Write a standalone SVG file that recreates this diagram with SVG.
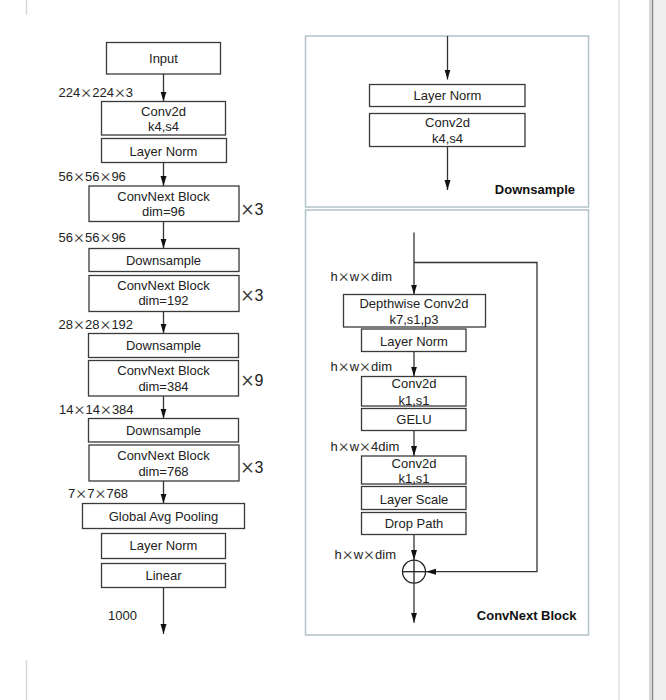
<svg xmlns="http://www.w3.org/2000/svg" width="666" height="700" viewBox="0 0 666 700">
  <defs>
    <marker id="arrow" markerUnits="userSpaceOnUse" markerWidth="11" markerHeight="7" refX="10" refY="3" orient="auto">
      <path d="M0,0 L10,3 L0,6 z" fill="#111"/>
    </marker>
    <style>
      .box { fill: #fff; stroke: #3a3a3a; stroke-width: 1.3; }
      .panel { fill: #fff; stroke: #b3c4c8; stroke-width: 1.5; }
      .t { font-family: "Liberation Sans", Arial, sans-serif; font-size: 13px; fill: #222; text-anchor: middle; }
      .lbl { font-family: "Liberation Sans", Arial, sans-serif; font-size: 13px; fill: #222; }
      .x { font-family: Roboto, "Liberation Sans", sans-serif; font-weight: 300; font-size: 19px; fill: #333; }
      .xr { font-family: Roboto, "Liberation Sans", sans-serif; font-weight: 300; font-size: 23px; fill: #333; }
      .rep { font-family: "Liberation Sans", Arial, sans-serif; font-size: 16px; fill: #222; }
      .title { font-family: "Liberation Sans", Arial, sans-serif; font-size: 13px; font-weight: bold; fill: #111; text-anchor: end; }
      .wire { fill: none; stroke: #333; stroke-width: 1.3; }
    </style>
  </defs>

  <!-- page edges -->
  <g id="page-edges">
    <line x1="26.5" y1="0" x2="26.5" y2="15" stroke="#d8d8d8" stroke-width="1.5"/>
    <line x1="26.5" y1="660" x2="26.5" y2="700" stroke="#d8d8d8" stroke-width="1.5"/>
    <line x1="619" y1="0" x2="619" y2="700" stroke="#e2e2e2" stroke-width="1.5"/>
    <rect x="649" y="0" width="17" height="700" fill="#efefef"/>
    <line x1="650" y1="0" x2="650" y2="700" stroke="#bdbdbd" stroke-width="1"/>
    <line x1="652.5" y1="0" x2="652.5" y2="700" stroke="#8a8a8a" stroke-width="1.5"/>
  </g>

  <!-- panels -->
  <g id="panel-downsample">
    <rect class="panel" x="305.5" y="36" width="283" height="171"/>
    <text class="title" x="575" y="193.5">Downsample</text>
  </g>
  <g id="panel-convnext">
    <rect class="panel" x="305.5" y="210" width="283" height="425"/>
    <text class="title" x="576.5" y="620">ConvNext Block</text>
  </g>

  <!-- connectors -->
  <g id="connectors" class="wire">
    <line x1="163.5" y1="74" x2="163.5" y2="101.5" marker-end="url(#arrow)"/>
    <line x1="163.5" y1="162.5" x2="163.5" y2="186" marker-end="url(#arrow)"/>
    <line x1="163.5" y1="221.5" x2="163.5" y2="248.5" marker-end="url(#arrow)"/>
    <line x1="163.5" y1="311.5" x2="163.5" y2="333.5" marker-end="url(#arrow)"/>
    <line x1="163.5" y1="396" x2="163.5" y2="418.5" marker-end="url(#arrow)"/>
    <line x1="163.5" y1="481" x2="163.5" y2="503.5" marker-end="url(#arrow)"/>
    <line x1="163.5" y1="587.5" x2="163.5" y2="634" marker-end="url(#arrow)"/>

    <line x1="447.5" y1="36" x2="447.5" y2="79.5" marker-end="url(#arrow)"/>
    <line x1="447.5" y1="146.5" x2="447.5" y2="190" marker-end="url(#arrow)"/>

    <line x1="414" y1="232.5" x2="414" y2="294.5" marker-end="url(#arrow)"/>
    <polyline points="414,262.5 537,262.5 537,571.7 426,571.7" marker-end="url(#arrow)"/>
    <line x1="414" y1="351.5" x2="414" y2="376.5" marker-end="url(#arrow)"/>
    <line x1="414" y1="430.5" x2="414" y2="456" marker-end="url(#arrow)"/>
    <line x1="414" y1="534.5" x2="414" y2="560" marker-end="url(#arrow)"/>
    <line x1="414" y1="583.2" x2="414" y2="622.7" marker-end="url(#arrow)"/>
  </g>

  <!-- backbone column -->
  <g id="input"><rect class="box" x="106.5" y="42.5" width="114" height="31.5"/><text class="t" x="163.5" y="63">Input</text></g>
  <g id="stem-conv"><rect class="box" x="101.5" y="101.5" width="124" height="33.5"/><text class="t" x="163.5" y="116">Conv2d</text><text class="t" x="163.5" y="131">k4,s4</text></g>
  <g id="stem-norm"><rect class="box" x="101.5" y="138.5" width="125" height="24"/><text class="t" x="163.5" y="155.5">Layer Norm</text></g>
  <g id="stage1"><rect class="box" x="89" y="186" width="150" height="35.5"/><text class="t" x="163.5" y="200.8">ConvNext Block</text><text class="t" x="163.5" y="215.8">dim=96</text><text class="rep" x="241.5" y="215"><tspan class="xr" dy="1">×</tspan><tspan dx="1" dy="-1">3</tspan></text></g>
  <g id="down1"><rect class="box" x="89" y="248.5" width="150" height="23"/><text class="t" x="163.5" y="264.8">Downsample</text></g>
  <g id="stage2"><rect class="box" x="89" y="275.5" width="150" height="36"/><text class="t" x="163.5" y="290.2">ConvNext Block</text><text class="t" x="163.5" y="305.2">dim=192</text><text class="rep" x="241.5" y="301"><tspan class="xr" dy="1">×</tspan><tspan dx="1" dy="-1">3</tspan></text></g>
  <g id="down2"><rect class="box" x="88.5" y="333.5" width="150" height="24"/><text class="t" x="163.5" y="350.2">Downsample</text></g>
  <g id="stage3"><rect class="box" x="88.5" y="360.5" width="150" height="35.5"/><text class="t" x="163.5" y="374.8">ConvNext Block</text><text class="t" x="163.5" y="390.5">dim=384</text><text class="rep" x="241.5" y="386"><tspan class="xr" dy="1">×</tspan><tspan dx="1" dy="-1">9</tspan></text></g>
  <g id="down3"><rect class="box" x="88.5" y="418.5" width="150" height="23.5"/><text class="t" x="163.5" y="434.8">Downsample</text></g>
  <g id="stage4"><rect class="box" x="89" y="445" width="150" height="36"/><text class="t" x="163.5" y="459.8">ConvNext Block</text><text class="t" x="163.5" y="475.5">dim=768</text><text class="rep" x="241.5" y="472.5"><tspan class="xr" dy="1">×</tspan><tspan dx="1" dy="-1">3</tspan></text></g>
  <g id="pool"><rect class="box" x="82.5" y="503.5" width="162" height="25"/><text class="t" x="163.5" y="520.5">Global Avg Pooling</text></g>
  <g id="head-norm"><rect class="box" x="101.5" y="533.5" width="124" height="25"/><text class="t" x="163.5" y="550.2">Layer Norm</text></g>
  <g id="head-linear"><rect class="box" x="101.5" y="563.5" width="124" height="24"/><text class="t" x="163.5" y="580.2">Linear</text></g>

  <!-- tensor shapes -->
  <g id="shapes">
    <text class="lbl" x="58.5" y="97">224<tspan class="x" dx="1" dy="1">×</tspan><tspan dx="1" dy="-1">224</tspan><tspan class="x" dx="1" dy="1">×</tspan><tspan dx="1" dy="-1">3</tspan></text>
    <text class="lbl" x="58.5" y="181">56<tspan class="x" dx="1" dy="1">×</tspan><tspan dx="1" dy="-1">56</tspan><tspan class="x" dx="1" dy="1">×</tspan><tspan dx="1" dy="-1">96</tspan></text>
    <text class="lbl" x="58.5" y="242">56<tspan class="x" dx="1" dy="1">×</tspan><tspan dx="1" dy="-1">56</tspan><tspan class="x" dx="1" dy="1">×</tspan><tspan dx="1" dy="-1">96</tspan></text>
    <text class="lbl" x="58.5" y="329">28<tspan class="x" dx="1" dy="1">×</tspan><tspan dx="1" dy="-1">28</tspan><tspan class="x" dx="1" dy="1">×</tspan><tspan dx="1" dy="-1">192</tspan></text>
    <text class="lbl" x="59" y="414">14<tspan class="x" dx="1" dy="1">×</tspan><tspan dx="1" dy="-1">14</tspan><tspan class="x" dx="1" dy="1">×</tspan><tspan dx="1" dy="-1">384</tspan></text>
    <text class="lbl" x="68" y="497.5">7<tspan class="x" dx="1" dy="1">×</tspan><tspan dx="1" dy="-1">7</tspan><tspan class="x" dx="1" dy="1">×</tspan><tspan dx="1" dy="-1">768</tspan></text>
    <text class="lbl" x="108" y="619.5">1000</text>

    <text class="lbl" x="330.5" y="281">h<tspan class="x" dx="1" dy="1">×</tspan><tspan dx="1" dy="-1">w</tspan><tspan class="x" dx="1" dy="1">×</tspan><tspan dx="1" dy="-1">dim</tspan></text>
    <text class="lbl" x="330.5" y="370.5">h<tspan class="x" dx="1" dy="1">×</tspan><tspan dx="1" dy="-1">w</tspan><tspan class="x" dx="1" dy="1">×</tspan><tspan dx="1" dy="-1">dim</tspan></text>
    <text class="lbl" x="330.5" y="451">h<tspan class="x" dx="1" dy="1">×</tspan><tspan dx="1" dy="-1">w</tspan><tspan class="x" dx="1" dy="1">×</tspan><tspan dx="1" dy="-1">4dim</tspan></text>
    <text class="lbl" x="334.5" y="558.5">h<tspan class="x" dx="1" dy="1">×</tspan><tspan dx="1" dy="-1">w</tspan><tspan class="x" dx="1" dy="1">×</tspan><tspan dx="1" dy="-1">dim</tspan></text>
  </g>

  <!-- downsample detail -->
  <g id="ds-norm"><rect class="box" x="369.5" y="84.5" width="155.5" height="22"/><text class="t" x="447.5" y="100">Layer Norm</text></g>
  <g id="ds-conv"><rect class="box" x="369.5" y="113.5" width="155.5" height="33"/><text class="t" x="447.5" y="126.8">Conv2d</text><text class="t" x="447.5" y="142.8">k4,s4</text></g>

  <!-- convnext block detail -->
  <g id="cb-dwconv"><rect class="box" x="343.5" y="294.5" width="142" height="32.5"/><text class="t" x="414" y="307.8">Depthwise Conv2d</text><text class="t" x="414" y="323.5">k7,s1,p3</text></g>
  <g id="cb-norm"><rect class="box" x="361.5" y="329" width="104.5" height="22.5"/><text class="t" x="414" y="345.5">Layer Norm</text></g>
  <g id="cb-pw1"><rect class="box" x="361.5" y="376.5" width="104.5" height="29.5"/><text class="t" x="414" y="388.2">Conv2d</text><text class="t" x="414" y="404.5">k1,s1</text></g>
  <g id="cb-gelu"><rect class="box" x="361.5" y="408.5" width="104.5" height="22"/><text class="t" x="414" y="424.2">GELU</text></g>
  <g id="cb-pw2"><rect class="box" x="361.5" y="456" width="104.5" height="28"/><text class="t" x="414" y="467.8">Conv2d</text><text class="t" x="414" y="482.8">k1,s1</text></g>
  <g id="cb-scale"><rect class="box" x="361.5" y="486.5" width="104.5" height="23"/><text class="t" x="414" y="503.5">Layer Scale</text></g>
  <g id="cb-drop"><rect class="box" x="361.5" y="512.5" width="104.5" height="22"/><text class="t" x="414" y="528.2">Drop Path</text></g>
  <g id="cb-add">
    <circle cx="414" cy="571.7" r="11.5" fill="#fff" stroke="#222" stroke-width="1.3"/>
    <line x1="402.5" y1="571.7" x2="425.5" y2="571.7" stroke="#222" stroke-width="1.3"/>
    <line x1="414" y1="560.2" x2="414" y2="583.2" stroke="#222" stroke-width="1.3"/>
  </g>
</svg>
